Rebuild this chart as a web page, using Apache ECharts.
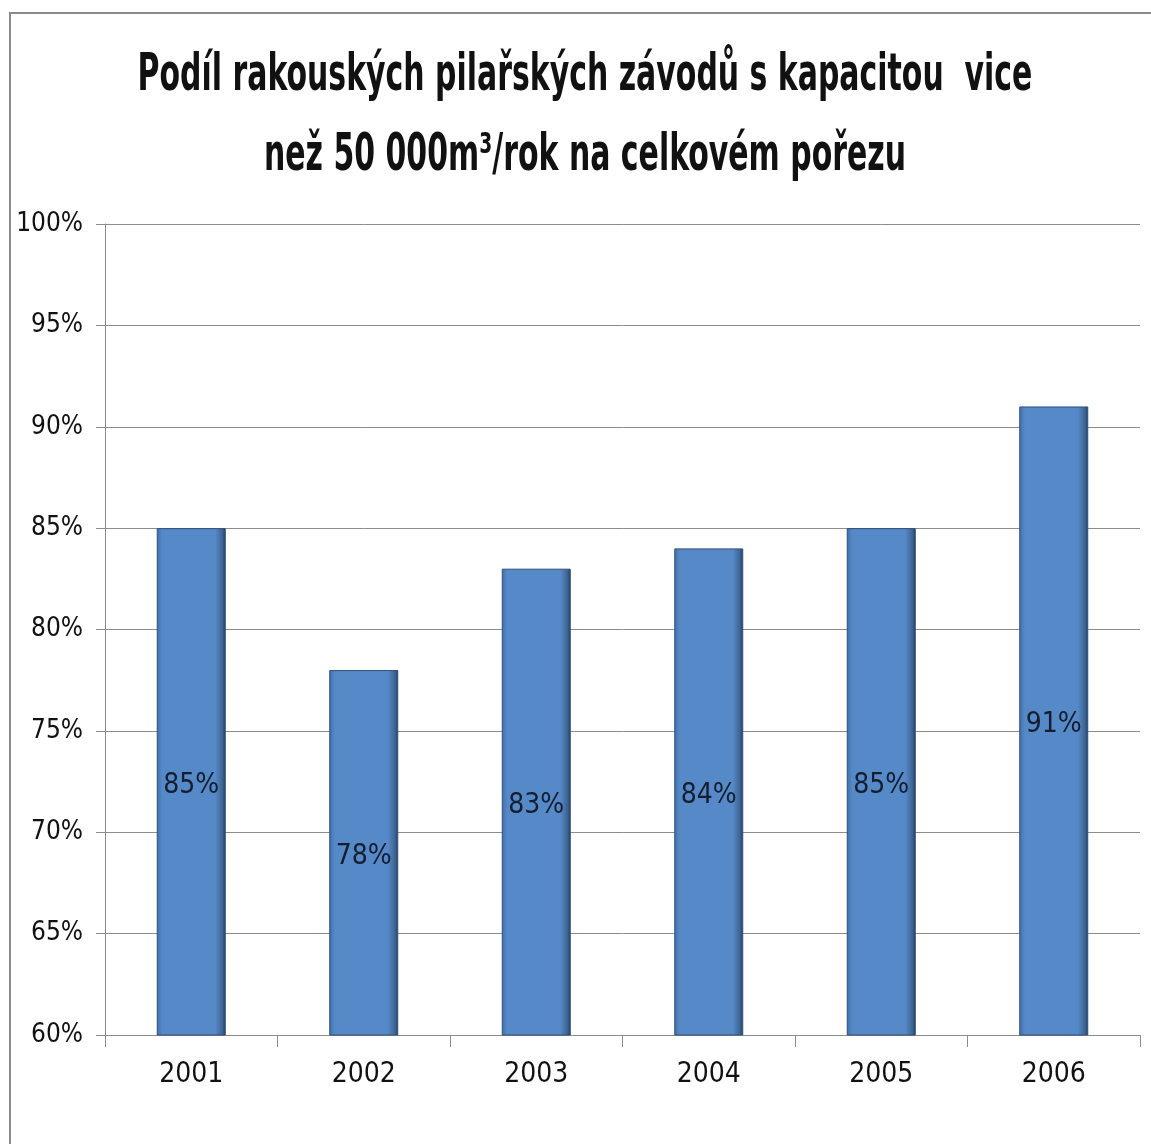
<!DOCTYPE html>
<html>
<head>
<meta charset="utf-8">
<script src="https://cdn.jsdelivr.net/npm/echarts@6/dist/echarts.min.js"></script>
<style>
  html, body { margin: 0; padding: 0; background: #fff; }
  #chart { width: 1151px; height: 1144px; }
</style>
</head>
<body>
<div id="chart"></div>
<script>
var years = ['2001', '2002', '2003', '2004', '2005', '2006'];
var shares = [85, 78, 83, 84, 85, 91];
var yMin = 60, yMax = 100, yStep = 5;
var titleLines = [
    'Podíl rakouských pilařských závodů s kapacitou  vice',
    'než 50 000m³/rok na celkovém pořezu'
];

var font = '"DejaVu Sans Condensed", "Noto Sans", sans-serif';

// title text is narrow in the original, so squeeze it horizontally
function titleText(str, y) {
    return {
        type: 'text',
        x: 585,
        y: y,
        scaleX: 0.64,
        style: {
            text: str,
            fontFamily: font,
            fontSize: 52,
            fontWeight: 'bold',
            fill: '#111',
            textAlign: 'center',
            textVerticalAlign: 'middle'
        },
        silent: true
    };
}

var myChart = echarts.init(document.getElementById('chart'));
myChart.setOption({
    backgroundColor: '#fff',
    graphic: [
        {
            type: 'rect',
            shape: {x: 10, y: 13, width: 1200, height: 1200},
            style: {fill: 'none', stroke: '#8a8a8a', lineWidth: 2},
            silent: true
        },
        titleText(titleLines[0], 76),
        titleText(titleLines[1], 156)
    ],
    grid: {
        left: 105,
        right: 11,
        top: 224,
        bottom: 109
    },
    xAxis: {
        type: 'category',
        data: years,
        axisLine: {lineStyle: {color: '#8c8c8c', width: 1}},
        axisTick: {show: true, length: 12, alignWithLabel: false, lineStyle: {color: '#8c8c8c'}},
        axisLabel: {
            fontFamily: font,
            fontSize: 28,
            color: '#111',
            margin: 26
        }
    },
    yAxis: {
        type: 'value',
        min: yMin,
        max: yMax,
        interval: yStep,
        axisLine: {show: true, lineStyle: {color: '#8c8c8c', width: 1}},
        axisTick: {show: true, length: 9, lineStyle: {color: '#8c8c8c'}},
        splitLine: {lineStyle: {color: '#8c8c8c', width: 1}},
        axisLabel: {
            formatter: '{value}%',
            fontFamily: font,
            fontSize: 26,
            color: '#111',
            margin: 22
        }
    },
    series: [
        {
            type: 'bar',
            data: shares,
            barWidth: '40%',
            itemStyle: {
                color: new echarts.graphic.LinearGradient(0, 0, 1, 0, [
                    {offset: 0, color: '#3f6fa8'},
                    {offset: 0.08, color: '#5689c8'},
                    {offset: 0.85, color: '#5689c8'},
                    {offset: 0.95, color: '#3d6594'},
                    {offset: 1, color: '#233d5c'}
                ]),
                borderColor: '#2f4f78',
                borderWidth: 1
            },
            label: {
                show: true,
                position: 'inside',
                offset: [0, 4],
                formatter: '{c}%',
                fontFamily: font,
                fontSize: 28,
                color: '#141e2e'
            }
        }
    ]
});
</script>
</body>
</html>
